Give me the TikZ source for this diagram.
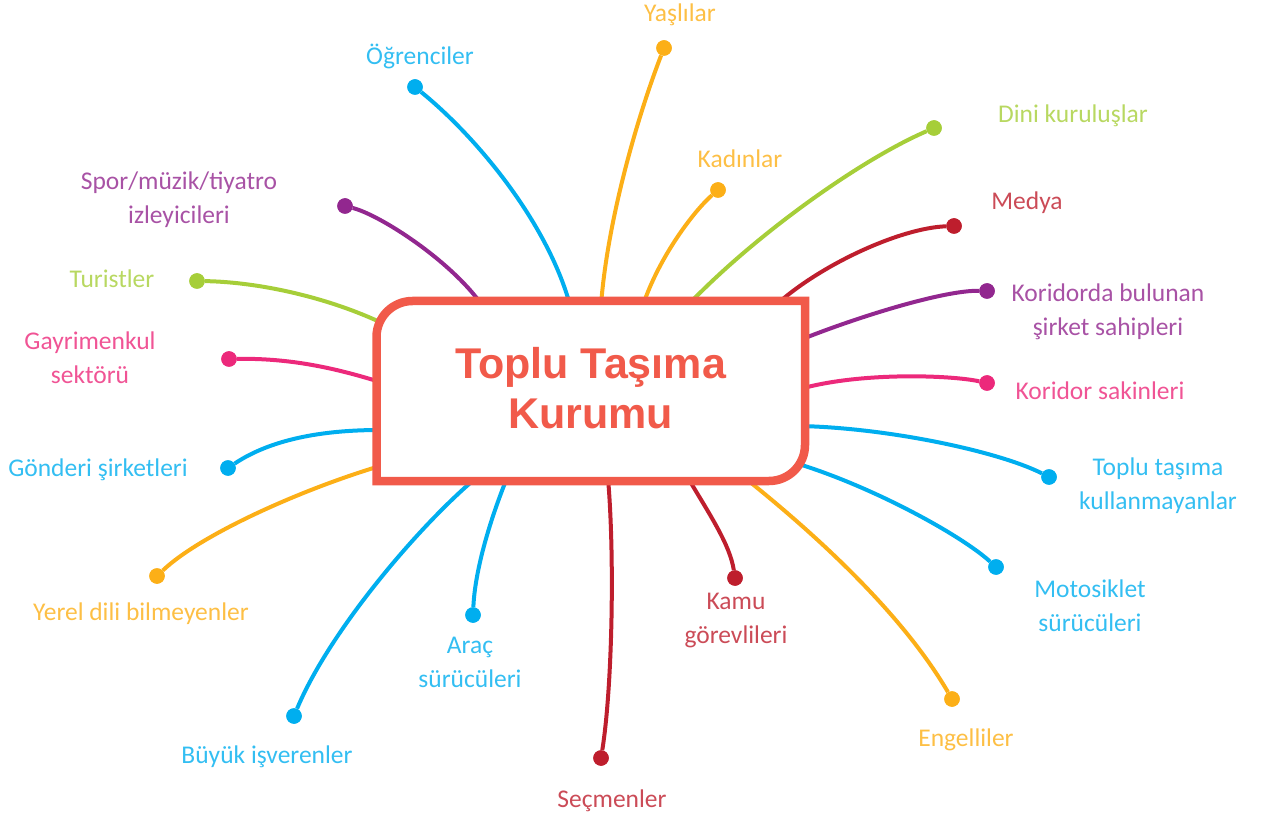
\documentclass[tikz,border=0pt]{standalone}
\usepackage{fontspec}
\setmainfont{Carlito}
\newfontfamily\titlefont{Liberation Sans}
\definecolor{cblue}{HTML}{00AEEF}
\definecolor{corange}{HTML}{FCAF17}
\definecolor{cgreen}{HTML}{A6CE39}
\definecolor{cred}{HTML}{BE1E2D}
\definecolor{cpurple}{HTML}{92278F}
\definecolor{cpink}{HTML}{EC297B}
\definecolor{ccoral}{HTML}{F15A4A}
\begin{document}
\begin{tikzpicture}[x=1pt,y=-1pt,
  conn/.style={draw=#1,line width=4pt},
  dot/.style={circle,fill=#1,minimum size=15.5pt,inner sep=0pt},
  lab/.style={text=#1!80!white,font=\fontsize{25.5}{34}\selectfont,align=center,inner sep=0pt,yshift=-2pt},
  boxline/.style={draw=ccoral,fill=white,line width=8.5pt,line join=miter}]
\useasboundingbox (0,0) rectangle (1262,818);

% dots
\node[dot=cblue]   (d1)  at (415,87)  {};
\node[dot=corange] (d2)  at (664,48)  {};
\node[dot=corange] (d3)  at (718,190) {};
\node[dot=cgreen]  (d4)  at (934,128) {};
\node[dot=cred]    (d5)  at (954,226) {};
\node[dot=cpurple] (d6)  at (987,291) {};
\node[dot=cpink]   (d7)  at (987,383) {};
\node[dot=cblue]   (d8)  at (1049,477) {};
\node[dot=cblue]   (d9)  at (996,567) {};
\node[dot=corange] (d10) at (952,699) {};
\node[dot=cred]    (d11) at (735,578) {};
\node[dot=cred]    (d12) at (601,758) {};
\node[dot=cblue]   (d13) at (473,615) {};
\node[dot=cblue]   (d14) at (294,716) {};
\node[dot=corange] (d15) at (157,576) {};
\node[dot=cblue]   (d16) at (228,468) {};
\node[dot=cpink]   (d17) at (229,359) {};
\node[dot=cgreen]  (d18) at (197,281) {};
\node[dot=cpurple] (d19) at (345,206) {};

% attachment points on the box
\coordinate (a1)  at (570,305);
\coordinate (a2)  at (601,305);
\coordinate (a3)  at (643,305);
\coordinate (a4)  at (688,305);
\coordinate (a5)  at (776,305);
\coordinate (a6)  at (800,340);
\coordinate (a7)  at (800,389);
\coordinate (a8)  at (800,426);
\coordinate (a9)  at (792,462);
\coordinate (a10) at (745,478);
\coordinate (a11) at (688,478);
\coordinate (a12) at (608,478);
\coordinate (a13) at (507,478);
\coordinate (a14) at (476,478);
\coordinate (a15) at (380,466);
\coordinate (a16) at (380,430);
\coordinate (a17) at (380,382);
\coordinate (a18) at (384,324);
\coordinate (a19) at (482,305);

% connectors
\draw[conn=cblue]   (d1)  .. controls (480,140) and (548,225) .. (a1);
\draw[conn=corange] (d2)  .. controls (640,110) and (608,215) .. (a2);
\draw[conn=corange] (d3)  .. controls (695,210) and (660,255) .. (a3);
\draw[conn=cgreen]  (d4)  .. controls (860,160) and (755,235) .. (a4);
\draw[conn=cred]    (d5)  .. controls (900,228) and (820,265) .. (a5);
\draw[conn=cpurple] (d6)  .. controls (945,290) and (860,316) .. (a6);
\draw[conn=cpink]   (d7)  .. controls (950,375) and (860,372) .. (a7);
\draw[conn=cblue]   (d8)  .. controls (1000,452) and (890,428) .. (a8);
\draw[conn=cblue]   (d9)  .. controls (961,535) and (870,485) .. (a9);
\draw[conn=corange] (d10) .. controls (900,610) and (810,530) .. (a10);
\draw[conn=cred]    (d11) .. controls (730,545) and (710,515) .. (a11);
\draw[conn=cred]    (d12) .. controls (612,690) and (615,560) .. (a12);
\draw[conn=cblue]   (d13) .. controls (475,570) and (490,520) .. (a13);
\draw[conn=cblue]   (d14) .. controls (330,630) and (420,525) .. (a14);
\draw[conn=corange] (d15) .. controls (200,535) and (300,490) .. (a15);
\draw[conn=cblue]   (d16) .. controls (270,440) and (320,430) .. (a16);
\draw[conn=cpink]   (d17) .. controls (290,358) and (335,368) .. (a17);
\draw[conn=cgreen]  (d18) .. controls (260,282) and (330,298) .. (a18);
\draw[conn=cpurple] (d19) .. controls (380,215) and (450,260) .. (a19);

% dots on top of the connector ends
\foreach \d/\c in {d1/cblue,d2/corange,d3/corange,d4/cgreen,d5/cred,d6/cpurple,d7/cpink,d8/cblue,d9/cblue,d10/corange,d11/cred,d12/cred,d13/cblue,d14/cblue,d15/corange,d16/cblue,d17/cpink,d18/cgreen,d19/cpurple}
  \fill[\c] (\d.center) circle[radius=7.75];

% central box
\draw[boxline] (376.5,481) -- (376.5,337) arc[start angle=180,end angle=270,radius=36]
  -- (805,301) -- (805,445) arc[start angle=0,end angle=90,radius=36] -- cycle;
\node[text=ccoral,font=\titlefont\bfseries\fontsize{43}{50}\selectfont,align=center] (box) at (590.5,388) {Toplu Taşıma\\Kurumu};

% labels
\node[lab=cblue]   (l1)  at (420,54)  {Öğrenciler};
\node[lab=corange] (l2)  at (680,13)  {Yaşlılar};
\node[lab=corange] (l3)  at (740,157) {Kadınlar};
\node[lab=cgreen]  (l4)  at (1073,114) {Dini kuruluşlar};
\node[lab=cred]    (l5)  at (1027,201) {Medya};
\node[lab=cpurple] (l6)  at (1108,310) {Koridorda bulunan\\şirket sahipleri};
\node[lab=cpink]   (l7)  at (1100,389) {Koridor sakinleri};
\node[lab=cblue]   (l8)  at (1158,484) {Toplu taşıma\\kullanmayanlar};
\node[lab=cblue]   (l9)  at (1090,604) {Motosiklet\\sürücüleri};
\node[lab=corange] (l10) at (966,738) {Engelliler};
\node[lab=cred]    (l11) at (736,619) {Kamu\\görevlileri};
\node[lab=cred]    (l12) at (612,799) {Seçmenler};
\node[lab=cblue]   (l13) at (470,660) {Araç\\sürücüleri};
\node[lab=cblue]   (l14) at (267,755) {Büyük işverenler};
\node[lab=corange] (l15) at (141,612) {Yerel dili bilmeyenler};
\node[lab=cblue]   (l16) at (98,468)  {Gönderi şirketleri};
\node[lab=cpink]   (l17) at (90,356)  {Gayrimenkul\\sektörü};
\node[lab=cgreen]  (l18) at (112,277) {Turistler};
\node[lab=cpurple] (l19) at (179,198) {Spor/müzik/tiyatro\\izleyicileri};
\end{tikzpicture}
\end{document}
